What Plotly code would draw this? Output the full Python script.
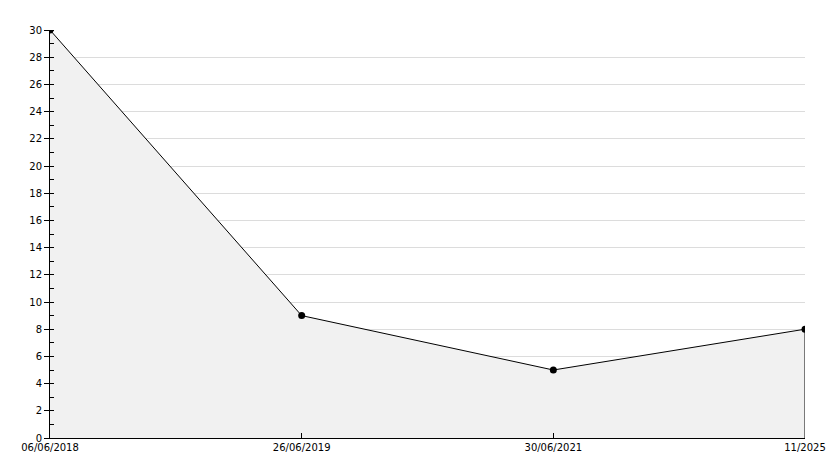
import plotly.graph_objects as go

dates = ["06/06/2018", "26/06/2019", "30/06/2021", "11/2025"]
values = [30, 9, 5, 8]
y_ticks = list(range(0, 31, 2))

xs = list(range(len(dates)))

fig = go.Figure()
fig.add_trace(go.Scatter(
    x=xs, y=values, mode="lines+markers",
    fill="tozeroy", fillcolor="#f1f1f1",
    line=dict(color="black", width=1),
    marker=dict(color="black", size=7, symbol="circle"),
    hoverinfo="skip", showlegend=False,
))
# closing edge of the filled area at the last point
fig.add_trace(go.Scatter(
    x=[xs[-1], xs[-1]], y=[0, values[-1]], mode="lines",
    line=dict(color="black", width=1), hoverinfo="skip", showlegend=False,
))

fig.update_layout(
    width=834, height=468,
    margin=dict(l=50, r=29, t=30, b=30),
    paper_bgcolor="white", plot_bgcolor="white",
    font=dict(family="DejaVu Sans", size=10, color="black"),
)
fig.update_xaxes(
    range=[0, len(dates) - 1], tickvals=xs, ticktext=dates,
    showgrid=False, zeroline=False, automargin=False,
    showline=True, linecolor="black", linewidth=1,
    ticks="inside", ticklen=5, tickcolor="black",
)
fig.update_yaxes(
    range=[0, 30], tickvals=y_ticks, automargin=False,
    showgrid=True, gridcolor="#dcdcdc", gridwidth=1, zeroline=False,
    showline=True, linecolor="black", linewidth=1,
    ticks="outside", ticklen=5, tickcolor="black",
    minor=dict(dtick=1, ticks="inside", ticklen=4, tickcolor="black", showgrid=False),
)

fig.write_html("out.html", config={"displayModeBar": False},
               post_script="document.body.style.margin='0';document.body.style.overflow='hidden';")
